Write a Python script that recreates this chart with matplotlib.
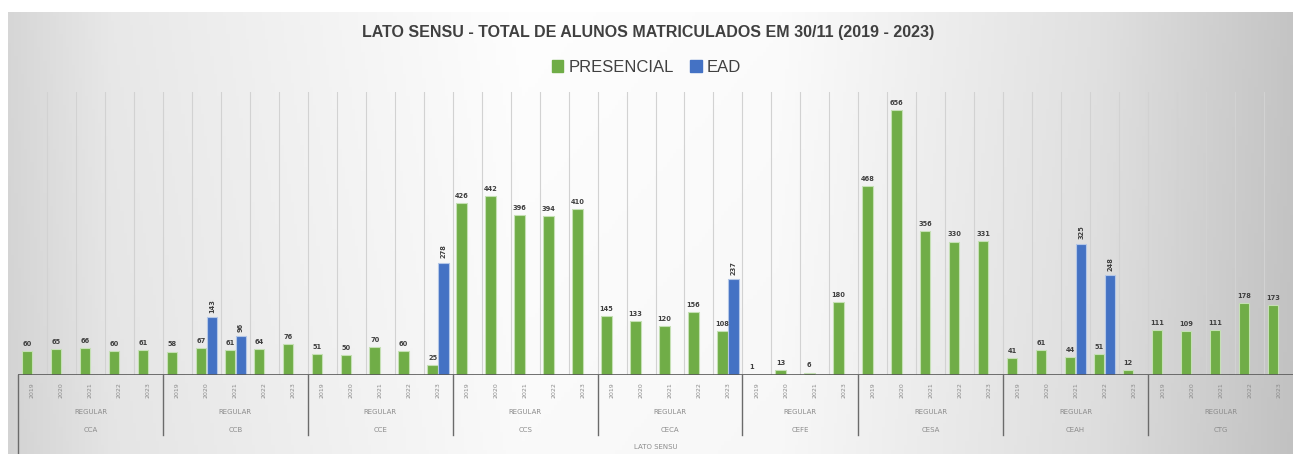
import numpy as np
import matplotlib.pyplot as plt
from matplotlib.patches import Patch
from matplotlib.transforms import blended_transform_factory

# === DADOS ===
grupos = ["CCA", "CCB", "CCE", "CCS", "CECA", "CEFE", "CESA", "CEAH", "CTG"]
modalidade = "REGULAR"
anos_grupo = [
    ["2019", "2020", "2021", "2022", "2023"],  # CCA
    ["2019", "2020", "2021", "2022", "2023"],  # CCB
    ["2019", "2020", "2021", "2022", "2023"],  # CCE
    ["2019", "2020", "2021", "2022", "2023"],  # CCS
    ["2019", "2020", "2021", "2022", "2023"],  # CECA
    ["2019", "2020", "2021", "2023"],          # CEFE
    ["2019", "2020", "2021", "2022", "2023"],  # CESA
    ["2019", "2020", "2021", "2022", "2023"],  # CEAH
    ["2019", "2020", "2021", "2022", "2023"],  # CTG
]
presencial = [
    60, 65, 66, 60, 61,
    58, 67, 61, 64, 76,
    51, 50, 70, 60, 25,
    426, 442, 396, 394, 410,
    145, 133, 120, 156, 108,
    1, 13, 6, 180,
    468, 656, 356, 330, 331,
    41, 61, 44, 51, 12,
    111, 109, 111, 178, 173,
]
ead = [
    None, None, None, None, None,
    None, 143, 96, None, None,
    None, None, None, None, 278,
    None, None, None, None, None,
    None, None, None, None, 237,
    None, None, None, None,
    None, None, None, None, None,
    None, None, 325, 248, None,
    None, None, None, None, None,
]

verde = "#70AD47"
azul = "#4472C4"
W, H = 1293, 454

fig = plt.figure(figsize=(W / 100, H / 100), dpi=100)
fig.patch.set_facecolor("white")

# fundo em degradê (area do grafico)
bg = fig.add_axes([8 / W, 0, 1 - 8 / W, 1 - 12 / H], zorder=-5)
xs = np.linspace(0, 1, 400)
linha = np.interp(xs, [0, 0.08, 0.4, 0.6, 0.85, 1], [0.84, 0.91, 0.995, 0.985, 0.88, 0.77])
ys = np.linspace(0, 1, 100)[:, None]
grad = linha[None, :] * (0.985 + 0.015 * ys)
bg.imshow(np.dstack([grad, grad, grad]), aspect="auto", extent=[0, 1, 0, 1], origin="lower")
bg.axis("off")

ax = fig.add_axes([18 / W, 79 / H, 1 - 18 / W, 283 / H])
ax.patch.set_alpha(0)
n = len(presencial)
x = np.arange(n)
ax.set_xlim(-0.5, n - 0.5)
ax.set_ylim(0, 700)
for s in ax.spines.values():
    s.set_visible(False)
ax.set_xticks([])
ax.set_yticks([])

# linhas verticais de grade
for k in range(n - 1):
    ax.axvline(k + 0.5, color="#d2d2d2", lw=0.8, zorder=0)

larg = 0.36
off = 0.19
pres = np.array(presencial, dtype=float)
ax.bar(x - off, pres, width=larg, color=verde, edgecolor="#c5e0b4", linewidth=0.8, zorder=2)
for xi, v in zip(x, presencial):
    ax.annotate(str(v), (xi - off, v), xytext=(0, 3), textcoords="offset points",
                ha="center", va="bottom", fontsize=4.8, fontweight="bold", color="#404040", zorder=4)

idx_ead = [i for i, v in enumerate(ead) if v is not None]
val_ead = [ead[i] for i in idx_ead]
ax.bar(x[idx_ead] + off, val_ead, width=larg, color=azul, edgecolor="#b4c7e7", linewidth=0.8, zorder=2)
for xi, v in zip(x[idx_ead], val_ead):
    ax.annotate(str(v), (xi + off, v), xytext=(0, 3), textcoords="offset points",
                ha="center", va="bottom", rotation=90, fontsize=4.8, fontweight="bold",
                color="#404040", zorder=4)

ax.axhline(0, color="#595959", lw=1.2, zorder=3)

# rotulos do eixo (multinivel)
tr = blended_transform_factory(ax.transData, ax.transAxes)
pos = 0
for g, anos in zip(grupos, anos_grupo):
    for j, a in enumerate(anos):
        ax.text(pos + j, -0.052, a, transform=tr, rotation=90, ha="center", va="center",
                fontsize=4.5, color="#8c8c8c", clip_on=False)
    meio = pos + (len(anos) - 1) / 2
    ax.text(meio, -0.131, modalidade, transform=tr, ha="center", va="center",
            fontsize=5, color="#8c8c8c", clip_on=False)
    ax.text(meio, -0.194, g, transform=tr, ha="center", va="center",
            fontsize=5, color="#8c8c8c", clip_on=False)
    pos += len(anos)
    if pos < n:
        ax.plot([pos - 0.5, pos - 0.5], [0, -0.212], transform=tr, color="#6b6b6b",
                lw=1, clip_on=False, zorder=3)
ax.plot([-0.5, -0.5], [0, -0.28], transform=tr, color="#6b6b6b", lw=1, clip_on=False, zorder=3)
ax.text((n - 1) / 2, -0.254, "LATO SENSU", transform=tr, ha="center", va="center",
        fontsize=5, color="#8c8c8c", clip_on=False)

fonte = ["Liberation Sans Narrow", "Liberation Sans", "DejaVu Sans"]
fig.text(0.501, 1 - 33 / H, "LATO SENSU - TOTAL DE ALUNOS MATRICULADOS EM 30/11 (2019 - 2023)",
         ha="center", va="center", fontsize=11.5, fontweight="bold", color="#404040", family=fonte)

handles = [Patch(color=verde, label="PRESENCIAL"), Patch(color=azul, label="EAD")]
fig.legend(handles=handles, loc="center", bbox_to_anchor=(0.5, 1 - 67 / H), ncol=2,
           frameon=False, prop={"family": fonte, "size": 12}, handlelength=0.7, handleheight=0.7,
           handletextpad=0.3, columnspacing=1.0, labelcolor="#404040")

fig.savefig("out.png", dpi=100)
